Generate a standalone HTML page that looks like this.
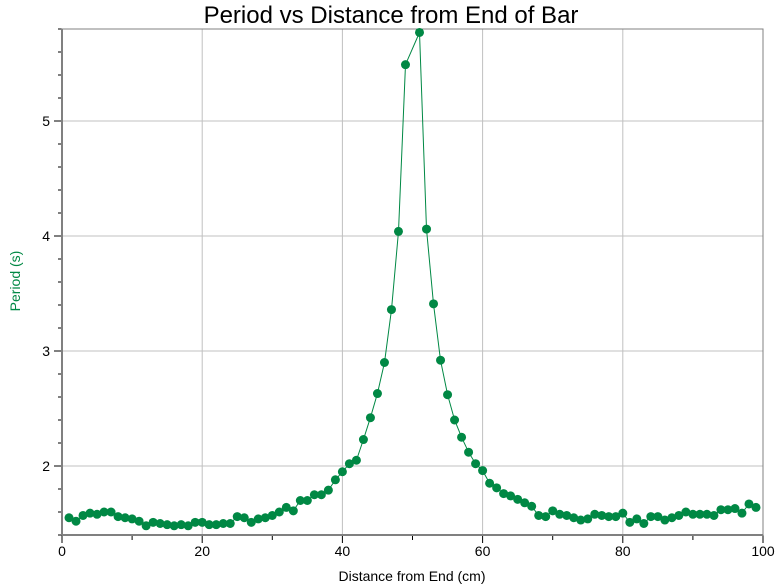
<!DOCTYPE html>
<html><head><meta charset="utf-8"><style>
body{margin:0;background:#fff;}
svg{display:block;font-family:"Liberation Sans",Arial,sans-serif;}
</style></head><body>
<svg id="chart" width="781" height="587">
<text x="391" y="23" text-anchor="middle" font-size="24" fill="#000">Period vs Distance from End of Bar</text>
<text x="20" y="281" text-anchor="middle" font-size="14" fill="#008844" transform="rotate(-90 20 281)">Period (s)</text>
<text x="412" y="581" text-anchor="middle" font-size="14" fill="#000">Distance from End (cm)</text>
<g id="grid"></g><g id="axes"></g><g id="series"></g>
</svg>
<script>
const xs = [1,2,3,4,5,6,7,8,9,10,11,12,13,14,15,16,17,18,19,20,21,22,23,24,25,26,27,28,29,30,31,32,33,34,35,36,37,38,39,40,41,42,43,44,45,46,47,48,49,51,52,53,54,55,56,57,58,59,60,61,62,63,64,65,66,67,68,69,70,71,72,73,74,75,76,77,78,79,80,81,82,83,84,85,86,87,88,89,90,91,92,93,94,95,96,97,98,99];
const periods = [1.55,1.52,1.57,1.59,1.58,1.60,1.60,1.56,1.55,1.54,1.52,1.48,1.51,1.50,1.49,1.48,1.49,1.48,1.51,1.51,1.49,1.49,1.50,1.50,1.56,1.55,1.51,1.54,1.55,1.57,1.60,1.64,1.61,1.70,1.70,1.75,1.75,1.79,1.88,1.95,2.02,2.05,2.23,2.42,2.63,2.90,3.36,4.04,5.49,5.77,4.06,3.41,2.92,2.62,2.40,2.25,2.12,2.02,1.96,1.85,1.81,1.76,1.74,1.71,1.68,1.65,1.57,1.56,1.61,1.58,1.57,1.55,1.53,1.54,1.58,1.57,1.56,1.56,1.59,1.51,1.54,1.50,1.56,1.56,1.53,1.55,1.57,1.60,1.58,1.58,1.58,1.57,1.62,1.62,1.63,1.59,1.67,1.64];
const xTicks = [0,20,40,60,80,100];
const yTicks = [2,3,4,5];
const NS='http://www.w3.org/2000/svg';
const L=62,R=763,T=29,B=535;
function sx(v){return L+(v-0)/100*(R-L);}
function sy(v){return 466-(v-2)*115;}
function mk(tag,attrs,parent){const e=document.createElementNS(NS,tag);for(const k in attrs)e.setAttribute(k,attrs[k]);parent.appendChild(e);return e;}
const grid=document.getElementById('grid'),axes=document.getElementById('axes'),ser=document.getElementById('series');
xTicks.forEach(t=>{
  const x=sx(t);
  if(t>0&&t<100){const g=mk('line',{x1:x,x2:x,y1:T,y2:B,stroke:'#c0c0c0','stroke-width':1},grid);
  
  }
  const tk=mk('line',{x1:x,x2:x,y1:B,y2:B+8,stroke:'#000','stroke-width':1},axes);
  
  
  const lb=mk('text',{x:x,y:B+21,'text-anchor':'middle','font-size':14,fill:'#000'},axes);lb.textContent=t;
  
  
});
for(let t=10;t<100;t+=20){const x=sx(t);const m=mk('line',{x1:x,x2:x,y1:B,y2:B+5,stroke:'#000'},axes);
  
  }
yTicks.forEach(t=>{
  const y=sy(t);
  const g=mk('line',{x1:L,x2:R,y1:y,y2:y,stroke:'#c0c0c0','stroke-width':1},grid);
  
  
  const tk=mk('line',{x1:L-8,x2:L,y1:y,y2:y,stroke:'#000'},axes);
  
  
  const lb=mk('text',{x:L-12,y:y+5,'text-anchor':'end','font-size':14,fill:'#000'},axes);lb.textContent=t;
  
  
});
for(let v=1.4;v<5.85;v+=0.2){const y=sy(v);if(y<T-1||y>B)continue;const m=mk('line',{x1:L-4,x2:L,y1:y,y2:y,stroke:'#000'},axes);
  
  }
const frame=mk('rect',{x:L,y:T,width:R-L,height:B-T,fill:'none',stroke:'#808080','stroke-width':1},axes);


const ya=mk('line',{x1:L,x2:L,y1:T,y2:B,stroke:'#808080','stroke-width':2},axes);


const xa=mk('line',{x1:L,x2:R,y1:B,y2:B,stroke:'#808080','stroke-width':2},axes);


const pts=xs.map((x,i)=>sx(x).toFixed(1)+','+sy(periods[i]).toFixed(1)).join(' ');
const pl=mk('polyline',{points:pts,fill:'none',stroke:'#008844','stroke-width':1},ser);


xs.forEach((x,i)=>{
  const c=mk('circle',{cx:sx(x),cy:sy(periods[i]),r:4.5,fill:'#008844'},ser);
  
  
});
</script>
</body></html>
